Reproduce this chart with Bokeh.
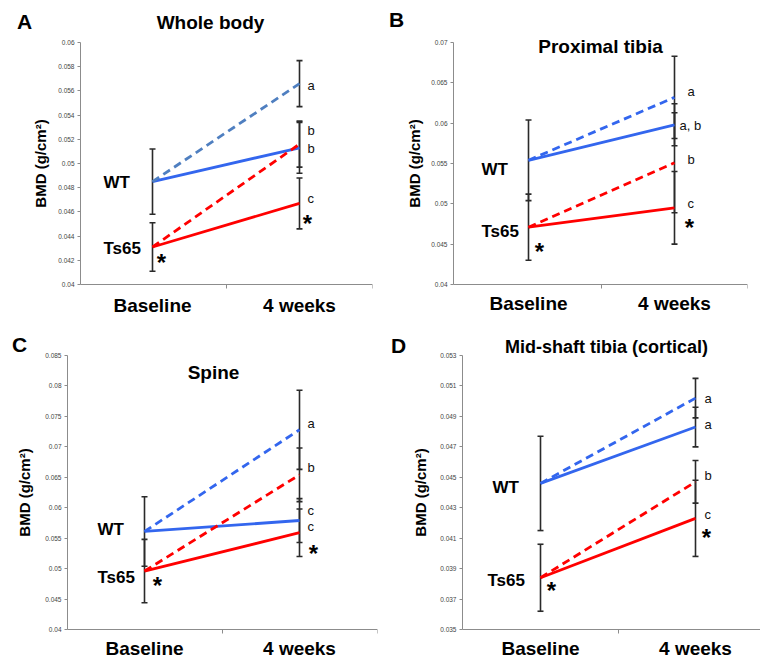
from bokeh.plotting import figure
from bokeh.models import ColumnDataSource, Whisker, TeeHead, FixedTicker, Label, Range1d
from bokeh.layouts import row, column
from bokeh.embed import file_html
from bokeh.resources import INLINE
from bokeh.core.properties import value

FONT = "Liberation Sans"

# ---------------- data ----------------
periods = ["Baseline", "4 weeks"]
genotypes = ["WT", "Ts65"]
series_keys = ["wt_ctrl", "wt_trt", "ts_ctrl", "ts_trt"]

# Panel A - Whole body
A_title = "Whole body"
A_wt_ctrl = [0.0485, 0.0513]
A_wt_ctrl_err = [0.0027, 0.0021]
A_wt_trt = [0.0485, 0.0566]
A_wt_trt_err = [0.0027, 0.0019]
A_ts_ctrl = [0.0431, 0.0467]
A_ts_ctrl_err = [0.0020, 0.0021]
A_ts_trt = [0.0431, 0.0516]
A_ts_trt_err = [0.0020, 0.0019]
A_letters = ["b", "a", "c", "b"]
A_yticks = [0.04, 0.042, 0.044, 0.046, 0.048, 0.05, 0.052, 0.054, 0.056, 0.058, 0.06]
A_ylabels = ["0.04", "0.042", "0.044", "0.046", "0.048", "0.05", "0.052", "0.054", "0.056", "0.058", "0.06"]

# Panel B - Proximal tibia
B_title = "Proximal tibia"
B_wt_ctrl = [0.0554, 0.0598]
B_wt_ctrl_err = [0.0050, 0.0026]
B_wt_trt = [0.0554, 0.0632]
B_wt_trt_err = [0.0050, 0.0051]
B_ts_ctrl = [0.0471, 0.0495]
B_ts_ctrl_err = [0.0041, 0.0045]
B_ts_trt = [0.0471, 0.0551]
B_ts_trt_err = [0.0041, 0.0062]
B_letters = ["a, b", "a", "c", "b"]
B_yticks = [0.04, 0.045, 0.05, 0.055, 0.06, 0.065, 0.07]
B_ylabels = ["0.04", "0.045", "0.05", "0.055", "0.06", "0.065", "0.07"]

# Panel C - Spine
C_title = "Spine"
C_wt_ctrl = [0.0561, 0.0579]
C_wt_ctrl_err = [0.0057, 0.0036]
C_wt_trt = [0.0561, 0.0728]
C_wt_trt_err = [0.0057, 0.0065]
C_ts_ctrl = [0.0496, 0.0559]
C_ts_ctrl_err = [0.0052, 0.0039]
C_ts_trt = [0.0496, 0.0654]
C_ts_trt_err = [0.0052, 0.0044]
C_letters = ["c", "a", "c", "b"]
C_yticks = [0.04, 0.045, 0.05, 0.055, 0.06, 0.065, 0.07, 0.075, 0.08, 0.085]
C_ylabels = ["0.04", "0.045", "0.05", "0.055", "0.06", "0.065", "0.07", "0.075", "0.08", "0.085"]

# Panel D - Mid-shaft tibia (cortical)
D_title = "Mid-shaft tibia (cortical)"
D_wt_ctrl = [0.0446, 0.0483]
D_wt_ctrl_err = [0.0031, 0.0013]
D_wt_trt = [0.0446, 0.0502]
D_wt_trt_err = [0.0031, 0.0013]
D_ts_ctrl = [0.0384, 0.0423]
D_ts_ctrl_err = [0.0022, 0.0025]
D_ts_trt = [0.0384, 0.0447]
D_ts_trt_err = [0.0022, 0.0014]
D_letters = ["a", "a", "c", "b"]
D_yticks = [0.035, 0.037, 0.039, 0.041, 0.043, 0.045, 0.047, 0.049, 0.051, 0.053]
D_ylabels = ["0.035", "0.037", "0.039", "0.041", "0.043", "0.045", "0.047", "0.049", "0.051", "0.053"]

# ---------------- styling / layout ----------------
BLUE = "#3366ee"
RED = "#ff0000"
BAR = "#2a2a2a"
AXIS = "#8c8c8c"


def make_panel(letter, title, data, letters, yticks, ylabels, cfg):
    ax, fr, ft, fb = cfg["frame"]       # y-axis x, x-axis right end, axis top, axis bottom (page px)
    cx, cy, W, H = cfg["canvas"]
    fw = fr - cx
    br = W - fw
    cbot = cy + H
    x0p, x1p = cfg["xpix"]
    sc = x1p - x0p
    xs = -(x0p - cx) / sc
    xe = xs + fw / sc
    x_axis_at = -(x0p - ax) / sc
    y0, y1 = yticks[0], yticks[-1]
    ppu = (fb - ft) / (y1 - y0)
    ye = y1 + (ft - cy) / ppu
    ys = y0 - (cbot - fb) / ppu

    p = figure(width=W, height=H, x_range=Range1d(xs, xe), y_range=Range1d(ys, ye),
               output_backend="svg", toolbar_location=None, title=None,
               min_border_left=0, min_border_right=br,
               min_border_top=0, min_border_bottom=0)
    p.xgrid.visible = False
    p.ygrid.visible = False
    p.outline_line_color = None

    # y axis
    p.yaxis.fixed_location = x_axis_at
    p.yaxis.bounds = (y0, y1)
    p.yaxis.ticker = FixedTicker(ticks=yticks)
    p.yaxis.major_label_overrides = dict(zip(yticks, ylabels))
    p.yaxis.axis_line_color = AXIS
    p.yaxis.major_tick_line_color = AXIS
    p.yaxis.major_tick_out = 3
    p.yaxis.major_tick_in = 0
    p.yaxis.minor_tick_line_color = None
    p.yaxis.major_label_standoff = 3
    p.yaxis.major_label_text_font = FONT
    p.yaxis.major_label_text_font_size = "6.5px"
    p.yaxis.major_label_text_color = "#444444"
    p.yaxis.axis_label = "BMD (g/cm²)"
    p.yaxis.axis_label_text_font = FONT
    p.yaxis.axis_label_text_font_size = "15px"
    p.yaxis.axis_label_text_font_style = "bold"
    p.yaxis.axis_label_text_color = "black"
    p.yaxis.axis_label_standoff = cfg["ylab_standoff"]

    # x axis
    xpos = list(range(len(periods)))
    p.xaxis.fixed_location = y0
    p.xaxis.bounds = (x_axis_at, xe)
    p.xaxis.ticker = FixedTicker(ticks=xpos, minor_ticks=[0.5, xe - 0.003])
    p.xaxis.major_label_overrides = dict(zip(xpos, periods))
    p.xaxis.axis_line_color = AXIS
    p.xaxis.major_tick_line_color = None
    p.xaxis.major_tick_out = 0
    p.xaxis.major_tick_in = 0
    p.xaxis.minor_tick_line_color = AXIS
    p.xaxis.minor_tick_out = 4
    p.xaxis.minor_tick_in = 0
    p.xaxis.major_label_standoff = cfg["xlab_standoff"]
    p.xaxis.major_label_text_font = FONT
    p.xaxis.major_label_text_font_size = "19px"
    p.xaxis.major_label_text_font_style = "bold"
    p.xaxis.major_label_text_color = "black"

    # error bars
    base_src = ColumnDataSource(dict(
        x=[xpos[0], xpos[0]],
        upper=[data["wt_ctrl"][0] + data["wt_ctrl_err"][0], data["ts_ctrl"][0] + data["ts_ctrl_err"][0]],
        lower=[data["wt_ctrl"][0] - data["wt_ctrl_err"][0], data["ts_ctrl"][0] - data["ts_ctrl_err"][0]],
    ))
    end_src = ColumnDataSource(dict(
        x=[xpos[1]] * 4,
        upper=[data[k][1] + data[k + "_err"][1] for k in series_keys],
        lower=[data[k][1] - data[k + "_err"][1] for k in series_keys],
    ))
    for src in (base_src, end_src):
        w = Whisker(source=src, base="x", upper="upper", lower="lower", dimension="height",
                    line_color=BAR, line_width=1.6,
                    upper_head=TeeHead(size=6, line_color=BAR, line_width=1.6),
                    lower_head=TeeHead(size=6, line_color=BAR, line_width=1.6))
        p.add_layout(w)

    # lines
    styles = {
        "wt_ctrl": (BLUE, "solid"),
        "wt_trt": (cfg["wt_dash_color"], "8 5"),
        "ts_ctrl": (RED, "solid"),
        "ts_trt": (RED, "8 5"),
    }
    for k in series_keys:
        col, dash = styles[k]
        p.line(xpos, data[k], line_color=col, line_width=2.8, line_dash=dash)

    # significance letters at 4 weeks
    lsrc = ColumnDataSource(dict(
        x=[xpos[1]] * 4, y=[data[k][1] for k in series_keys], t=letters,
        xo=cfg["letter_xo"], yo=cfg["letter_yo"]))
    p.text(x="x", y="y", text="t", x_offset="xo", y_offset="yo", source=lsrc,
           text_font=value(FONT), text_font_size="13px", text_color="#111111",
           text_align="left", text_baseline="middle")

    # genotype labels
    gsrc = ColumnDataSource(dict(
        x=[xpos[0], xpos[0]], y=[data["wt_ctrl"][0], data["ts_ctrl"][0]], t=genotypes,
        xo=cfg["geno_xo"], yo=cfg["geno_yo"]))
    p.text(x="x", y="y", text="t", x_offset="xo", y_offset="yo", source=gsrc,
           text_font=value(FONT), text_font_size="17px", text_font_style="bold",
           text_color="black", text_align="left", text_baseline="middle")

    # asterisks (Ts65 vs WT)
    asrc = ColumnDataSource(dict(
        x=xpos, y=[data["ts_ctrl"][0], data["ts_ctrl"][1]], t=["*", "*"],
        xo=cfg["ast_xo"], yo=cfg["ast_yo"]))
    p.text(x="x", y="y", text="t", x_offset="xo", y_offset="yo", source=asrc,
           text_font=value(FONT), text_font_size="24px", text_font_style="bold",
           text_color="black", text_align="center", text_baseline="middle")

    # panel letter and title (page px -> frame-relative screen units)
    lx, ly = cfg["letter_pos"]
    tx, ty = cfg["title_pos"]
    p.add_layout(Label(x=lx - cx, y=cbot - ly, x_units="screen", y_units="screen", text=letter,
                       text_font=FONT, text_font_size="21px", text_font_style="bold",
                       text_color="black", text_align="center", text_baseline="middle"))
    p.add_layout(Label(x=tx - cx, y=cbot - ty, x_units="screen", y_units="screen", text=title,
                       text_font=FONT, text_font_size=cfg["title_size"], text_font_style="bold",
                       text_color="black", text_align="center", text_baseline="middle"))
    return p


def pack(prefix):
    g = globals()
    d = {}
    for k in series_keys:
        d[k] = g[prefix + "_" + k]
        d[k + "_err"] = g[prefix + "_" + k + "_err"]
    return d


cfgA = dict(frame=(80, 372, 42, 284), canvas=(0, 0, 388, 326), xpix=(152, 299),
            ylab_standoff=6, xlab_standoff=6, wt_dash_color="#4f7fc0", title_size="19px",
            letter_xo=[8, 8, 8, 8], letter_yo=[1, 2, -5, -14],
            geno_xo=[-49, -49], geno_yo=[1, 2],
            ast_xo=[9, 8], ast_yo=[16, 20],
            letter_pos=(24, 21), title_pos=(210, 22))
cfgB = dict(frame=(453, 747, 42, 284), canvas=(388, 0, 372, 326), xpix=(528, 674),
            ylab_standoff=5, xlab_standoff=4, wt_dash_color=BLUE, title_size="19px",
            letter_xo=[5, 13, 13, 13], letter_yo=[1, -6, -4, -3],
            geno_xo=[-47, -47], geno_yo=[9, 4],
            ast_xo=[11, 15], ast_yo=[24, 20],
            letter_pos=(396, 19), title_pos=(600, 46))
cfgC = dict(frame=(67, 377, 355, 629), canvas=(0, 326, 388, 334), xpix=(144, 299),
            ylab_standoff=9, xlab_standoff=4, wt_dash_color=BLUE, title_size="19px",
            letter_xo=[8, 8, 8, 8], letter_yo=[-10, -6, -6, -7],
            geno_xo=[-47, -47], geno_yo=[-2, 6],
            ast_xo=[13, 14], ast_yo=[14, 21],
            letter_pos=(19, 344), title_pos=(213, 372))
cfgD = dict(frame=(462, 760, 355, 629), canvas=(388, 326, 372, 334), xpix=(540, 695),
            ylab_standoff=8, xlab_standoff=4, wt_dash_color=BLUE, title_size="18px",
            letter_xo=[9, 9, 9, 9], letter_yo=[-3, 0, -4, -6],
            geno_xo=[-48, -53], geno_yo=[4, 3],
            ast_xo=[11, 11], ast_yo=[13, 19],
            letter_pos=(398, 345), title_pos=(606, 346))

pA = make_panel("A", A_title, pack("A"), A_letters, A_yticks, A_ylabels, cfgA)
pB = make_panel("B", B_title, pack("B"), B_letters, B_yticks, B_ylabels, cfgB)
pC = make_panel("C", C_title, pack("C"), C_letters, C_yticks, C_ylabels, cfgC)
pD = make_panel("D", D_title, pack("D"), D_letters, D_yticks, D_ylabels, cfgD)

layout = column(row(pA, pB), row(pC, pD))
open("out.html", "w").write(file_html(layout, INLINE))
